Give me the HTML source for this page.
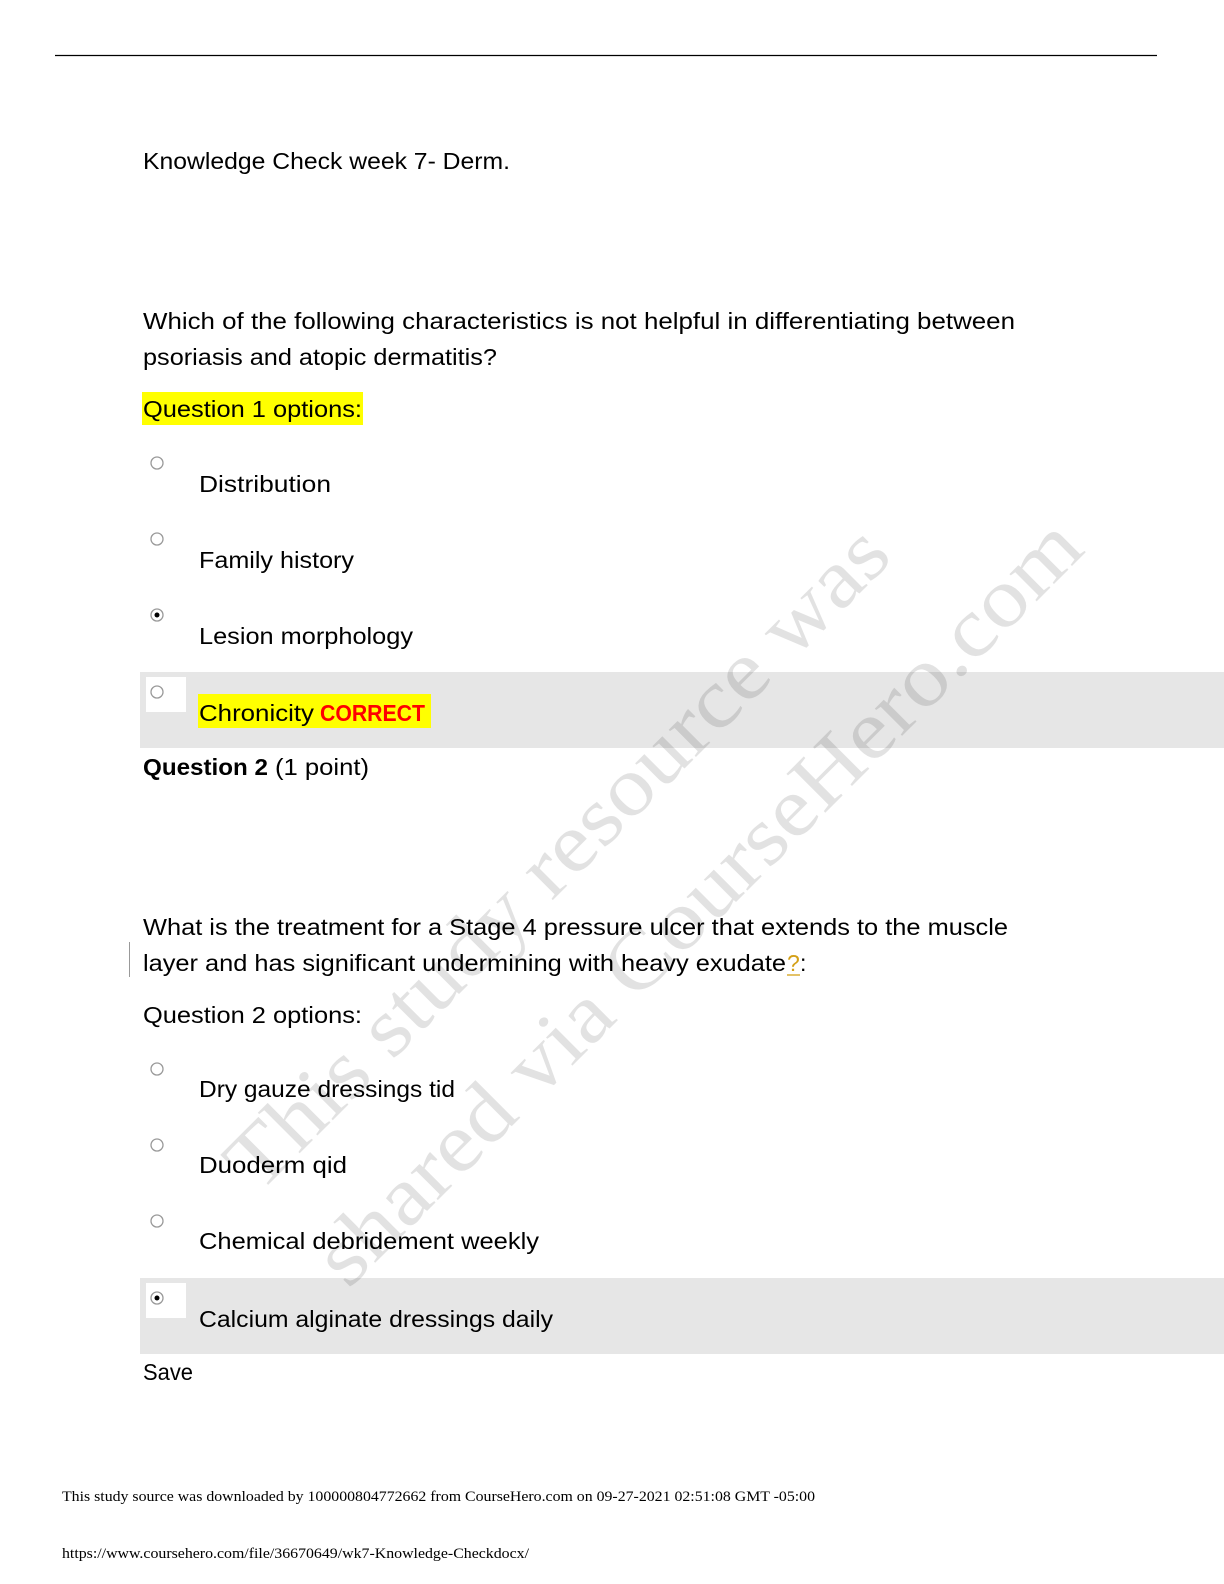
<!DOCTYPE html>
<html><head><meta charset="utf-8"><style>
html,body{margin:0;padding:0;background:#fff;overflow:hidden;width:1224px;height:1584px}
svg{display:block}
.t{font-family:"Liberation Sans",sans-serif;font-size:23px;fill:#000}
.f{font-family:"Liberation Serif",serif;font-size:15px;fill:#000}
.w{font-family:"Liberation Serif",serif;font-size:84px;fill:#000;opacity:0.11}
</style></head><body>
<svg width="1224" height="1584" viewBox="0 0 1224 1584" xmlns="http://www.w3.org/2000/svg">
<line x1="55" y1="55.5" x2="1157" y2="55.5" stroke="#000" stroke-width="1.2"/>
<rect x="140" y="672" width="1084" height="76" fill="#e6e6e6"/>
<rect x="140" y="1278" width="1084" height="76" fill="#e6e6e6"/>
<rect x="146" y="677" width="40" height="35" fill="#fff"/>
<rect x="146" y="1283" width="40" height="35" fill="#fff"/>
<rect x="142" y="392" width="221" height="33" fill="#ffff00"/>
<rect x="198" y="694" width="233" height="34" fill="#ffff00"/>
<line x1="129.5" y1="942" x2="129.5" y2="977" stroke="#999" stroke-width="1"/>
<g fill="#fff" stroke="#999" stroke-width="1.3">
<circle cx="157" cy="463" r="6"/><circle cx="157" cy="539" r="6"/><circle cx="157" cy="615" r="6"/><circle cx="157" cy="692" r="6"/>
<circle cx="157" cy="1069" r="6"/><circle cx="157" cy="1145" r="6"/><circle cx="157" cy="1221" r="6"/><circle cx="157" cy="1298" r="6"/>
</g>
<circle cx="157" cy="615" r="2.5" fill="#000"/><circle cx="157" cy="1298" r="2.5" fill="#000"/>
<text class="t" x="143" y="169" textLength="367" lengthAdjust="spacingAndGlyphs">Knowledge Check week 7- Derm.</text>
<text class="t" x="143" y="329" textLength="872" lengthAdjust="spacingAndGlyphs">Which of the following characteristics is not helpful in differentiating between</text>
<text class="t" x="143" y="365" textLength="354" lengthAdjust="spacingAndGlyphs">psoriasis and atopic dermatitis?</text>
<text class="t" x="143" y="417" textLength="219" lengthAdjust="spacingAndGlyphs">Question 1 options:</text>
<text class="t" x="199" y="492" textLength="132" lengthAdjust="spacingAndGlyphs">Distribution</text>
<text class="t" x="199" y="568" textLength="155" lengthAdjust="spacingAndGlyphs">Family history</text>
<text class="t" x="199" y="644" textLength="214" lengthAdjust="spacingAndGlyphs">Lesion morphology</text>
<text class="t" x="199" y="721" textLength="115" lengthAdjust="spacingAndGlyphs">Chronicity</text>
<text class="t" x="320" y="721" textLength="105" lengthAdjust="spacingAndGlyphs" style="fill:#ff0000;font-weight:bold">CORRECT</text>
<text class="t" x="143" y="775" textLength="125" lengthAdjust="spacingAndGlyphs" style="font-weight:bold">Question 2</text>
<text class="t" x="275" y="775" textLength="94" lengthAdjust="spacingAndGlyphs">(1 point)</text>
<text class="t" x="143" y="935" textLength="865" lengthAdjust="spacingAndGlyphs">What is the treatment for a Stage 4 pressure ulcer that extends to the muscle</text>
<text class="t" x="143" y="971" textLength="643" lengthAdjust="spacingAndGlyphs">layer and has significant undermining with heavy exudate</text>
<text class="t" x="787" y="971" style="fill:#d4a017">?</text>
<line x1="787" y1="975" x2="800" y2="975" stroke="#d4a017" stroke-width="1.3"/>
<text class="t" x="800" y="971">:</text>
<text class="t" x="143" y="1023" textLength="219" lengthAdjust="spacingAndGlyphs">Question 2 options:</text>
<text class="t" x="199" y="1097" textLength="256" lengthAdjust="spacingAndGlyphs">Dry gauze dressings tid</text>
<text class="t" x="199" y="1173" textLength="148" lengthAdjust="spacingAndGlyphs">Duoderm qid</text>
<text class="t" x="199" y="1249" textLength="340" lengthAdjust="spacingAndGlyphs">Chemical debridement weekly</text>
<text class="t" x="199" y="1327" textLength="354" lengthAdjust="spacingAndGlyphs">Calcium alginate dressings daily</text>
<text class="t" x="143" y="1380" textLength="50" lengthAdjust="spacingAndGlyphs">Save</text>
<text class="w" transform="translate(258,1195) rotate(-45)" textLength="900" lengthAdjust="spacingAndGlyphs">This study resource was</text>
<text class="w" transform="translate(348,1290) rotate(-45)" textLength="1045" lengthAdjust="spacingAndGlyphs">shared via CourseHero.com</text>
<text class="f" x="62" y="1501" textLength="753" lengthAdjust="spacingAndGlyphs">This study source was downloaded by 100000804772662 from CourseHero.com on 09-27-2021 02:51:08 GMT -05:00</text>
<text class="f" x="62" y="1558" textLength="467" lengthAdjust="spacingAndGlyphs">https://www.coursehero.com/file/36670649/wk7-Knowledge-Checkdocx/</text>
</svg>
</body></html>
